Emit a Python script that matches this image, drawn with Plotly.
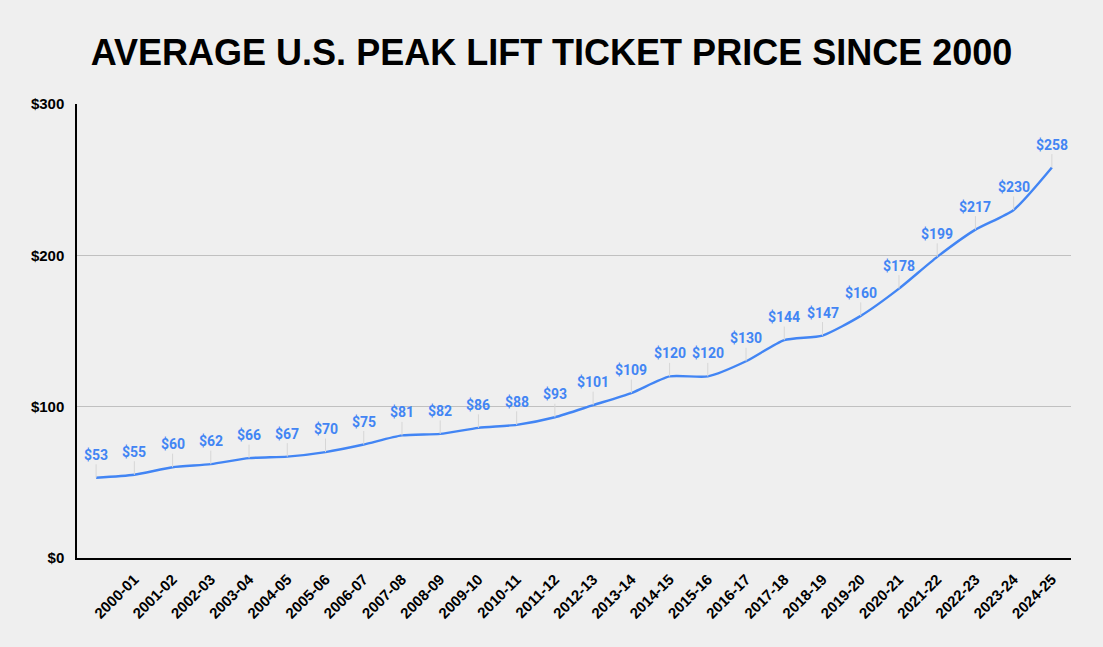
import plotly.graph_objects as go

# first data point has no season label on the axis
seasons = ["", "2000-01", "2001-02", "2002-03", "2003-04", "2004-05", "2005-06", "2006-07",
           "2007-08", "2008-09", "2009-10", "2010-11", "2011-12", "2012-13", "2013-14",
           "2014-15", "2015-16", "2016-17", "2017-18", "2018-19", "2019-20", "2020-21",
           "2021-22", "2022-23", "2023-24", "2024-25"]
prices = [53, 55, 60, 62, 66, 67, 70, 75, 81, 82, 86, 88, 93, 101, 109, 120, 120, 130,
          144, 147, 160, 178, 199, 217, 230, 258]
y_ticks = [0, 100, 200, 300]
y_tick_text = ["$0", "$100", "$200", "$300"]

idx = list(range(len(prices)))
blue = "#4285F4"

fig = go.Figure()
fig.add_trace(go.Scatter(
    x=idx, y=prices, mode="lines",
    line=dict(color=blue, width=2.4, shape="spline", smoothing=0.6),
    hoverinfo="skip", showlegend=False,
))

for i, v in zip(idx, prices):
    fig.add_annotation(
        x=i, y=v, xref="x", yref="y",
        text=f"${v}", showarrow=True, arrowhead=0, arrowwidth=1,
        arrowcolor="#d6d6d6", ax=0, ay=-23, standoff=0,
        font=dict(family="Roboto", size=14, color=blue, weight="bold"),
    )

fig.update_layout(
    width=1103, height=647,
    paper_bgcolor="#efefef", plot_bgcolor="#efefef",
    margin=dict(l=77, r=32, t=104, b=89),
    title=dict(
        text="AVERAGE U.S. PEAK LIFT TICKET PRICE SINCE 2000",
        x=0.5, xanchor="center", xref="container",
        y=1 - 52 / 647, yref="container", yanchor="middle",
        font=dict(family="Liberation Sans", size=36, color="#000000", weight="bold"),
    ),
    xaxis=dict(
        range=[-0.5, len(prices) - 0.5],
        tickmode="array", tickvals=idx, ticktext=seasons,
        tickangle=-45, showgrid=False, zeroline=False,
        showline=True, linecolor="#000000", linewidth=1.5,
        ticks="", ticklabelstandoff=5,
        tickfont=dict(family="Liberation Sans", size=15, color="#000000", weight="bold"),
    ),
    yaxis=dict(
        range=[0, 300], tickmode="array", tickvals=y_ticks, ticktext=y_tick_text,
        showgrid=True, gridcolor="#c0c0c0", gridwidth=1, zeroline=False,
        showline=True, linecolor="#000000", linewidth=1.5,
        ticks="", ticklabelstandoff=8,
        tickfont=dict(family="Liberation Sans", size=15, color="#000000", weight="bold"),
    ),
)

fig.write_html("out.html", config={"displayModeBar": False},
               post_script="document.body.style.margin='0';")
